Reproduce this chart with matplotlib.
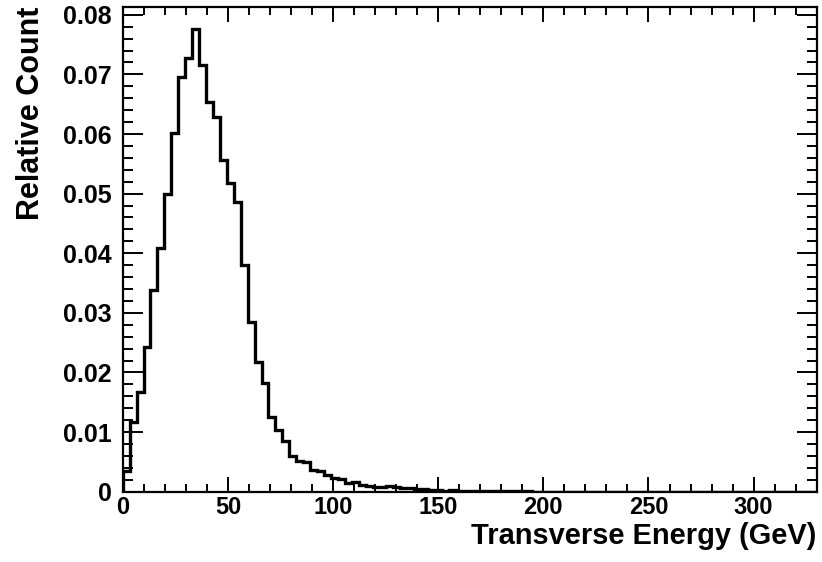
import numpy as np
import matplotlib
matplotlib.use("Agg")
import matplotlib.pyplot as plt
from matplotlib.ticker import MultipleLocator, FuncFormatter

# relative count per bin, 100 bins of 3.3 GeV from 0 to 330
rel_count = [
    0.0034, 0.0117, 0.0168, 0.0243, 0.0338, 0.0408, 0.0500, 0.0601, 0.0696, 0.0728,
    0.0776, 0.0715, 0.0654, 0.0629, 0.0556, 0.0517, 0.0486, 0.0380, 0.0285, 0.0218,
    0.0182, 0.0125, 0.0103, 0.0085, 0.0060, 0.0052, 0.0049, 0.0036, 0.0034, 0.0028,
    0.0023, 0.0021, 0.0015, 0.0017, 0.0011, 0.0009, 0.0008, 0.0008, 0.0009, 0.0008,
    0.0007, 0.0006, 0.0005, 0.0004, 0.0003, 0.0003, 0.0002, 0.0003, 0.0002, 0.0002,
    0.0001, 0.0001, 0.0002, 0.0001, 0.0001, 0.0001, 0.0001, 0.0002, 0.0001, 0.0,
    0.0, 0.0, 0.0, 0.0, 0.0, 0.0, 0.0, 0.0, 0.0, 0.0,
    0.0, 0.0, 0.0, 0.0, 0.0, 0.0, 0.0, 0.0, 0.0, 0.0,
    0.0, 0.0, 0.0, 0.0, 0.0, 0.0, 0.0, 0.0, 0.0, 0.0,
    0.0, 0.0, 0.0, 0.0, 0.0, 0.0, 0.0, 0.0, 0.0, 0.0,
]
x_min, x_max = 0, 330
y_max = 0.0813

plt.rcParams["font.family"] = ["Liberation Sans", "DejaVu Sans"]
plt.rcParams["font.weight"] = "bold"
plt.rcParams["axes.labelweight"] = "bold"

fig = plt.figure(figsize=(8.22, 5.62), dpi=100)
ax = fig.add_axes([0.1493, 0.1251, 0.8443, 0.8624])

edges = np.linspace(x_min, x_max, len(rel_count) + 1)
ax.stairs(rel_count, edges, color="black", linewidth=2.4, baseline=0)

ax.set_xlim(x_min, x_max)
ax.set_ylim(0, y_max)

ax.xaxis.set_major_locator(MultipleLocator(50))
ax.xaxis.set_minor_locator(MultipleLocator(10))
ax.yaxis.set_major_locator(MultipleLocator(0.01))
ax.yaxis.set_minor_locator(MultipleLocator(0.002))
ax.yaxis.set_major_formatter(FuncFormatter(lambda v, p: "0" if abs(v) < 1e-9 else "%.2f" % v))

ax.tick_params(which="both", direction="in", top=True, right=True, width=1.4, colors="black")
ax.tick_params(axis="x", which="major", length=11, labelsize=17, pad=3)
ax.tick_params(axis="x", which="minor", length=5.5)
ax.tick_params(axis="y", which="major", length=14.5, labelsize=18, pad=8)
ax.tick_params(axis="y", which="minor", length=7)

for s in ax.spines.values():
    s.set_linewidth(1.6)

ax.set_xlabel("Transverse Energy (GeV)", fontsize=20.9, loc="right", labelpad=2)
ax.set_ylabel("Relative Count", fontsize=22, loc="top", labelpad=12)

fig.savefig("out.png", dpi=100)
plt.close(fig)
